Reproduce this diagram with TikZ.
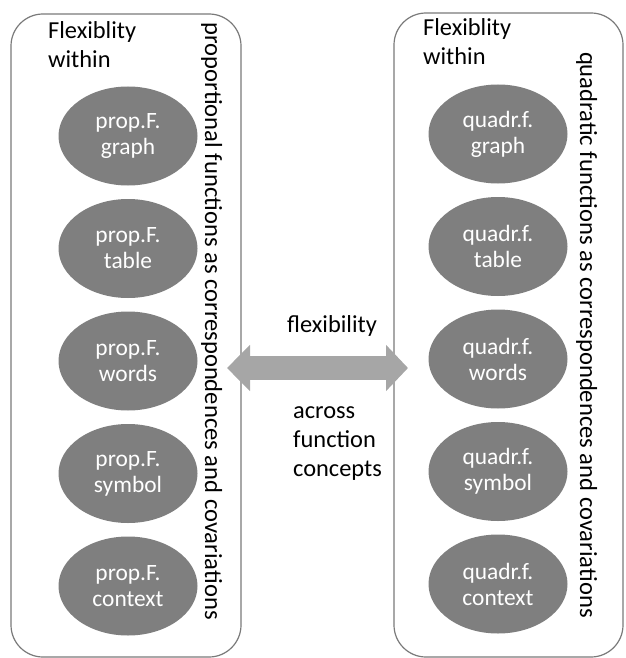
\documentclass[tikz,border=0pt]{standalone}
\usepackage{fontspec}
\setmainfont{Carlito}
\usetikzlibrary{arrows.meta,shapes.geometric}

\definecolor{ovalgray}{HTML}{7F7F7F}
\definecolor{arrowgray}{HTML}{A6A6A6}
\definecolor{framegray}{HTML}{7A7A7A}

\begin{document}
\begin{tikzpicture}[x=1pt,y=-1pt,
    panel/.style={draw=framegray, line width=1.2pt, rounded corners=32pt, inner sep=0pt},
    oval/.style={ellipse, fill=ovalgray, text=white, minimum width=139pt, minimum height=99pt,
      inner sep=0pt, align=center, font=\fontsize{23.4}{26}\selectfont},
    plain/.style={inner sep=0pt, align=left, anchor=base west, font=\fontsize{24.4}{29}\selectfont},
    sidetext/.style={inner sep=0pt, rotate=-90, anchor=base east, font=\fontsize{24.6}{29}\selectfont}]
    \useasboundingbox (0,0) rectangle (625,658);

    % Caixas
    \node[panel, minimum width=230pt, minimum height=643pt] (propbox) at (126,335.5) {};
    \node[panel, minimum width=229pt, minimum height=644pt] (quadbox) at (508.5,335) {};

    % Titulos (base da ultima linha)
    \node[plain] (propwithin) at (48,68) {Flexiblity\\within};
    \node[plain] (quadwithin) at (423,65) {Flexiblity\\within};

    % Representacoes
    \foreach \rep [count=\i from 0] in {graph,table,words,symbol,context} {
        \node[oval] (prop-\rep) at (128,136+112.5*\i) {prop.F.\\\rep};
        \node[oval] (quad-\rep) at (498,134+112.5*\i) {quadr.f.\\\rep};
    }

    % Textos verticais
    \node[sidetext] (propside) at (205,620) {proportional functions as correspondences and covariations};
    \node[sidetext] (quadside) at (580,618) {quadratic functions as correspondences and covariations};

    % Seta dupla
    \coordinate (arrowL) at (227,368);
    \coordinate (arrowR) at (408,368);
    \draw[arrowgray, line width=24pt,
        {Triangle[length=23pt,width=45pt]}-{Triangle[length=22pt,width=45pt]}] (arrowL) -- (arrowR);

    \node[plain] (flexacross) at (287,332) {flexibility};
    \node[plain] (acrossconcepts) at (293,476) {across\\function\\concepts};
\end{tikzpicture}
\end{document}
